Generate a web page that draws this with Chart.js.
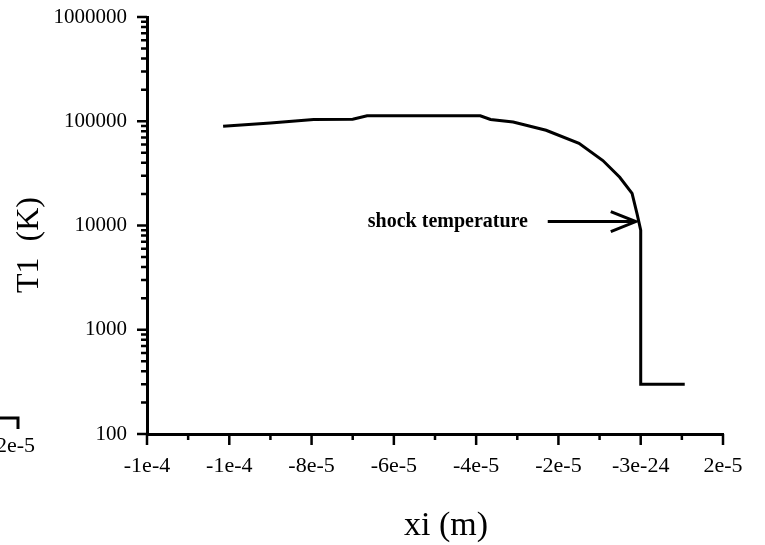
<!DOCTYPE html>
<html>
<head>
<meta charset="utf-8">
<script src="https://cdn.jsdelivr.net/npm/chart.js@4/dist/chart.umd.min.js"></script>
<style>
  html, body { margin: 0; padding: 0; background: #fff; }
  canvas { display: block; }
</style>
</head>
<body>
<canvas id="chart" width="765" height="545"></canvas>
<script>
// curve: xi (m) and T1 (K)
const xi = [-1.015e-4, -9.0e-5, -7.95e-5, -7.0e-5, -6.65e-5, -3.9e-5, -3.65e-5, -3.1e-5,
            -2.3e-5, -1.5e-5, -9.2e-6, -5.1e-6, -2.1e-6, -9e-7, 0, 0, 1.07e-5];
const T1 = [89600, 96300, 104000, 104500, 113000, 113000, 104000, 98500,
            82000, 61500, 42000, 29000, 20300, 13000, 9000, 300, 300];

// axis ticks as printed on the original
const xTickValues = [-1.2e-4, -1e-4, -8e-5, -6e-5, -4e-5, -2e-5, 0, 2e-5];
const xTickLabels = ['-1e-4', '-1e-4', '-8e-5', '-6e-5', '-4e-5', '-2e-5', '-3e-24', '2e-5'];
const yTickValues = [100, 1000, 10000, 100000, 1000000];
const yTickLabels = ['100', '1000', '10000', '100000', '1000000'];

// annotation
const noteText = 'shock temperature';
const noteY = 10900;
const arrowFrom = -2.26e-5;
const arrowTo = -1.2e-6;
const noteTextEnd = -2.74e-5;

const SERIF = '"Liberation Serif", "DejaVu Serif", serif';

// minor tick marks, arrow, axis titles and side texts
const extras = {
  id: 'extras',
  afterDraw(chart) {
    const ctx = chart.ctx;
    const xs = chart.scales.x;
    const ys = chart.scales.y;
    const area = chart.chartArea;
    ctx.save();
    ctx.strokeStyle = '#000';
    ctx.fillStyle = '#000';
    ctx.lineWidth = 2.5;

    // y ticks (outside, left)
    ctx.beginPath();
    for (let d = 100; d <= 1000000; d *= 10) {
      const py = ys.getPixelForValue(d);
      ctx.moveTo(area.left - 10, py); ctx.lineTo(area.left, py);
      if (d < 1000000) {
        for (let k = 2; k <= 9; k++) {
          const p = ys.getPixelForValue(k * d);
          ctx.moveTo(area.left - 6, p); ctx.lineTo(area.left, p);
        }
      }
    }
    // x ticks (outside, below)
    for (let i = 0; i <= 14; i++) {
      const v = -1.2e-4 + i * 1e-5;
      const px = xs.getPixelForValue(v);
      const len = i % 2 === 0 ? 11 : 6;
      ctx.moveTo(px, area.bottom); ctx.lineTo(px, area.bottom + len);
    }
    ctx.stroke();

    // annotation arrow
    const ay = ys.getPixelForValue(noteY);
    const ax0 = xs.getPixelForValue(arrowFrom);
    const ax1 = xs.getPixelForValue(arrowTo);
    ctx.lineWidth = 3;
    ctx.beginPath();
    ctx.moveTo(ax0, ay); ctx.lineTo(ax1, ay);
    ctx.moveTo(ax1 - 25, ay - 10); ctx.lineTo(ax1, ay); ctx.lineTo(ax1 - 25, ay + 10);
    ctx.stroke();

    ctx.font = 'bold 20px ' + SERIF;
    ctx.textAlign = 'right';
    ctx.textBaseline = 'middle';
    ctx.fillText(noteText, xs.getPixelForValue(noteTextEnd), ay);

    // axis titles
    ctx.textAlign = 'center';
    ctx.font = '34px ' + SERIF;
    ctx.fillText('xi (m)', 446, 526);

    ctx.save();
    ctx.translate(30, 245);
    ctx.rotate(-Math.PI / 2);
    ctx.font = '32px ' + SERIF;
    ctx.fillText('T1  (K)', 0, 0);
    ctx.restore();

    // cut-off label from a neighbouring panel
    ctx.font = '22px ' + SERIF;
    ctx.textAlign = 'left';
    ctx.fillText('2e-5', -4, 446);
    ctx.lineWidth = 3;
    ctx.beginPath();
    ctx.moveTo(0, 418); ctx.lineTo(18, 418); ctx.lineTo(18, 429);
    ctx.stroke();
    ctx.restore();
  }
};

new Chart(document.getElementById('chart'), {
  type: 'line',
  data: {
    datasets: [{
      label: 'T1',
      data: xi.map((x, i) => ({ x: x, y: T1[i] })),
      borderColor: '#000',
      borderWidth: 3,
      pointRadius: 0,
      tension: 0,
      fill: false
    }]
  },
  options: {
    responsive: false,
    animation: false,
    layout: { padding: { left: 0, right: 42, top: 17, bottom: 0 } },
    plugins: { legend: { display: false }, tooltip: { enabled: false } },
    scales: {
      x: {
        type: 'linear',
        min: -1.2e-4,
        max: 2e-5,
        afterBuildTicks: s => { s.ticks = xTickValues.map(v => ({ value: v })); },
        afterFit: s => { s.height = 111; s.paddingLeft = 0; s.paddingRight = 0; },
        grid: { display: false, drawTicks: false },
        border: { display: true, color: '#000', width: 3 },
        ticks: {
          autoSkip: false,
          maxRotation: 0,
          padding: 19,
          color: '#000',
          font: { family: SERIF, size: 22 },
          callback: (v, i) => xTickLabels[i]
        }
      },
      y: {
        type: 'logarithmic',
        min: 100,
        max: 1000000,
        afterBuildTicks: s => { s.ticks = yTickValues.map(v => ({ value: v })); },
        afterFit: s => { s.width = 147; s.paddingTop = 0; s.paddingBottom = 0; },
        grid: { display: false, drawTicks: false },
        border: { display: true, color: '#000', width: 3 },
        ticks: {
          autoSkip: false,
          padding: 20,
          color: '#000',
          font: { family: SERIF, size: 21 },
          callback: (v, i) => yTickLabels[i]
        }
      }
    }
  },
  plugins: [extras]
});
</script>
</body>
</html>
